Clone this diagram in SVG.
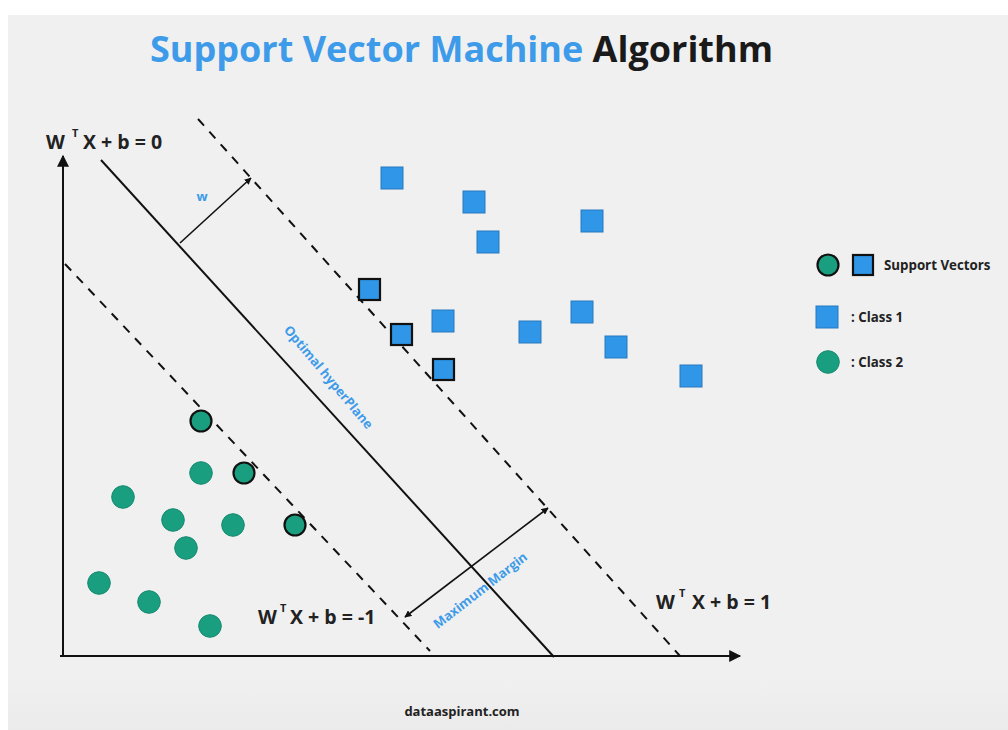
<svg xmlns="http://www.w3.org/2000/svg" width="1008" height="730" viewBox="0 0 1008 730">
<defs>
<style>
.t{font-family:"Open Sans","Liberation Sans",sans-serif;font-weight:700}
.eq{font-size:19.5px;fill:#222}
.sup{font-size:11px;fill:#222}
.lbl{font-size:13px;fill:#3d9be9}
.leg{font-size:13.3px;fill:#222}
.sq{fill:#2f96e8;stroke:#2879be;stroke-width:1}
.ci{fill:#1a9e80;stroke:#168a6f;stroke-width:1}
.sq.sv,.ci.sv{stroke:#111;stroke-width:2.2}
.ln{stroke:#111;stroke-width:2;fill:none}
.dash{stroke:#111;stroke-width:2;fill:none;stroke-dasharray:9 8}
</style>
<marker id="ah" viewBox="0 0 10 10" refX="9" refY="5" markerWidth="7" markerHeight="7" orient="auto-start-reverse" markerUnits="userSpaceOnUse">
<path d="M0,0 L10,5 L0,10 z" fill="#111"/>
</marker>
<marker id="ax" viewBox="0 0 10 10" refX="9" refY="5" markerWidth="14" markerHeight="12" orient="auto" markerUnits="userSpaceOnUse">
<path d="M0,0 L10,5 L0,10 z" fill="#111"/>
</marker>
<linearGradient id="bg" x1="0" y1="0" x2="0" y2="1">
<stop offset="0" stop-color="#f0f0f0"/>
<stop offset="0.93" stop-color="#f0f0f0"/>
<stop offset="1" stop-color="#ebebeb"/>
</linearGradient>
</defs>
<rect width="1008" height="730" fill="#ffffff"/>
<rect x="8" y="15" width="1000" height="715" fill="url(#bg)"/>

<g id="title">
<text class="t" x="150" y="62" font-size="36"><tspan fill="#3d9be9">Support Vector Machine</tspan><tspan fill="#1a1a1a"> Algorithm</tspan></text>
</g>

<g id="connectors">
<line id="y-axis" class="ln" x1="63" y1="657" x2="63" y2="156" marker-end="url(#ax)"/>
<line id="x-axis" class="ln" x1="60" y1="656" x2="740" y2="656" marker-end="url(#ax)"/>
<line id="hyperplane" class="ln" x1="101" y1="160" x2="554" y2="657"/>
<line id="margin-plus" class="dash" x1="198" y1="119" x2="680" y2="656"/>
<line id="margin-minus" class="dash" x1="65" y1="264" x2="430" y2="651"/>
<line id="w-arrow" stroke="#111" stroke-width="1.6" x1="180" y1="243" x2="251" y2="178" marker-end="url(#ah)"/>
<line id="max-margin" stroke="#111" stroke-width="1.6" x1="405" y1="617" x2="548" y2="508" marker-start="url(#ah)" marker-end="url(#ah)"/>
</g>

<g id="labels">
<text class="t eq" x="46" y="149">W</text><text class="t sup" x="72" y="137">T</text><text class="t eq" x="83" y="149">X + b = 0</text>
<text class="t eq" x="258" y="624">W</text><text class="t sup" x="280" y="612">T</text><text class="t eq" x="290" y="624">X + b = -1</text>
<text class="t eq" x="656" y="609">W</text><text class="t sup" x="679" y="597">T</text><text class="t eq" x="692" y="609">X + b = 1</text>
<text class="t lbl" x="202" y="201" text-anchor="middle">w</text>
<text class="t lbl" text-anchor="middle" transform="translate(325,380) rotate(50)">Optimal hyperPlane</text>
<text class="t lbl" text-anchor="middle" transform="translate(483,594) rotate(-38)">Maximum Margin</text>
<text class="t" x="462" y="716" font-size="13" fill="#222" text-anchor="middle">dataaspirant.com</text>
</g>

<g id="class1">
<rect class="sq" x="381" y="167" width="22" height="22"/>
<rect class="sq" x="463" y="191" width="22" height="22"/>
<rect class="sq" x="581" y="210" width="22" height="22"/>
<rect class="sq" x="477" y="231" width="22" height="22"/>
<rect class="sq" x="432" y="310" width="22" height="22"/>
<rect class="sq" x="519" y="321" width="22" height="22"/>
<rect class="sq" x="571" y="301" width="22" height="22"/>
<rect class="sq" x="605" y="336" width="22" height="22"/>
<rect class="sq" x="680" y="365" width="22" height="22"/>
<rect class="sq sv" x="359" y="279" width="21" height="21"/>
<rect class="sq sv" x="391" y="324" width="21" height="21"/>
<rect class="sq sv" x="433" y="359" width="21" height="21"/>
</g>

<g id="class2">
<circle class="ci" cx="201" cy="473" r="11.3"/>
<circle class="ci" cx="123" cy="497" r="11.3"/>
<circle class="ci" cx="173" cy="520" r="11.3"/>
<circle class="ci" cx="233" cy="525" r="11.3"/>
<circle class="ci" cx="186" cy="548" r="11.3"/>
<circle class="ci" cx="99" cy="583" r="11.3"/>
<circle class="ci" cx="149" cy="602" r="11.3"/>
<circle class="ci" cx="210" cy="626" r="11.3"/>
<circle class="ci sv" cx="201" cy="421" r="10.5"/>
<circle class="ci sv" cx="244" cy="473" r="10.5"/>
<circle class="ci sv" cx="295" cy="525" r="10.5"/>
</g>

<g id="legend">
<circle class="ci sv" cx="828" cy="265" r="10.5"/>
<rect class="sq sv" x="853" y="255" width="20" height="20"/>
<text class="t leg" x="884" y="270">Support Vectors</text>
<rect class="sq" x="816" y="306" width="22" height="22"/>
<text class="t leg" x="851" y="322">: Class 1</text>
<circle class="ci" cx="828" cy="362" r="11.3"/>
<text class="t leg" x="851" y="367">: Class 2</text>
</g>
</svg>
